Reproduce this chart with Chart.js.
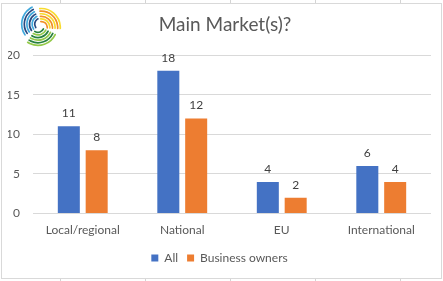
<!DOCTYPE html>
<html>
<head>
<meta charset="utf-8">
<script src="https://cdn.jsdelivr.net/npm/chart.js@4.4.1/dist/chart.umd.min.js"></script>
<style>
  html, body { margin: 0; padding: 0; background: #ffffff; }
  #wrap { width: 443px; height: 281px; }
</style>
</head>
<body>
<div id="wrap"><canvas id="c" width="443" height="281"></canvas></div>
<script>
// Survey answers: main market(s)
const categories = ['Local/regional', 'National', 'EU', 'International'];
const allRespondents = [11, 18, 4, 6];
const businessOwners = [8, 12, 2, 4];
const seriesNames = ['All', 'Business owners'];
const yTicks = [0, 5, 10, 15, 20];
const chartTitle = 'Main Market(s)?';

const FONT = 'Lato, "Liberation Sans", sans-serif';
const TEXT = '#595959';
const GRID = '#D9D9D9';

// Sheet cell lines, chart frame, title and the swirl emblem
const framePlugin = {
  id: 'frame',
  beforeDraw(chart) {
    const ctx = chart.ctx;
    ctx.save();
    ctx.fillStyle = '#ffffff';
    ctx.fillRect(0, 0, chart.width, chart.height);
    ctx.strokeStyle = '#D4D4D4';
    ctx.lineWidth = 1;
    [60, 145, 230, 315, 400].forEach(x => {
      ctx.beginPath();
      ctx.moveTo(x + 0.5, 0); ctx.lineTo(x + 0.5, 3);
      ctx.moveTo(x + 0.5, 278); ctx.lineTo(x + 0.5, 281);
      ctx.stroke();
    });
    ctx.strokeStyle = GRID;
    ctx.strokeRect(1.5, 3.5, 440, 275);
    ctx.restore();
  },
  afterDraw(chart) {
    const ctx = chart.ctx;
    ctx.save();
    ctx.font = '19px ' + FONT;
    ctx.fillStyle = TEXT;
    ctx.textAlign = 'center';
    ctx.textBaseline = 'middle';
    ctx.fillText(chartTitle, 225, 25);

    ctx.lineCap = 'round';
    const cx = 40, cy = 26;
    const blades = [
      { mid: -40, from: '#F08A1C', to: '#F8D923' },
      { mid: 80,  from: '#1C7A36', to: '#8DC63F' },
      { mid: 200, from: '#1B3F7A', to: '#36A3DA' }
    ];
    blades.forEach(b => {
      const a = b.mid * Math.PI / 180;
      const ox = cx + 2 * Math.cos(a + Math.PI / 2);
      const oy = cy + 2 * Math.sin(a + Math.PI / 2);
      const radii = [6, 8.6, 11.2, 13.8, 16.4, 19];
      radii.forEach((r, i) => {
        ctx.strokeStyle = i % 2 ? b.to : b.from;
        ctx.globalAlpha = 0.95;
        ctx.lineWidth = 1.7;
        ctx.beginPath();
        ctx.arc(ox, oy, r, a - 0.95, a + 0.75);
        ctx.stroke();
      });
    });
    ctx.restore();
  }
};

// Value labels over each bar
const valueLabels = {
  id: 'valueLabels',
  afterDatasetsDraw(chart) {
    const ctx = chart.ctx;
    ctx.save();
    ctx.font = '12px ' + FONT;
    ctx.fillStyle = '#404040';
    ctx.textAlign = 'center';
    ctx.textBaseline = 'middle';
    chart.data.datasets.forEach((ds, i) => {
      chart.getDatasetMeta(i).data.forEach((bar, j) => {
        ctx.fillText(String(ds.data[j]), bar.x, bar.y - 13);
      });
    });
    ctx.restore();
  }
};

new Chart(document.getElementById('c'), {
  type: 'bar',
  data: {
    labels: categories,
    datasets: [
      { label: seriesNames[0], data: allRespondents, backgroundColor: '#4472C4' },
      { label: seriesNames[1], data: businessOwners, backgroundColor: '#ED7D31' }
    ]
  },
  options: {
    responsive: false,
    animation: false,
    devicePixelRatio: 1,
    categoryPercentage: 0.56,
    barPercentage: 0.79,
    layout: { padding: { left: 8, right: 12, top: 55, bottom: 7 } },
    plugins: {
      title: { display: false },
      legend: {
        position: 'bottom',
        labels: {
          color: TEXT,
          font: { family: FONT, size: 12 },
          boxWidth: 7,
          boxHeight: 7,
          padding: 9
        }
      },
      tooltip: { enabled: false }
    },
    scales: {
      x: {
        afterFit(scale) { scale.height += 5; },
        grid: { display: false },
        border: { display: false },
        ticks: { color: TEXT, font: { family: FONT, size: 12 }, padding: 1 }
      },
      y: {
        min: 0,
        max: 20,
        afterFit(scale) { scale.width = 25; },
        afterBuildTicks(scale) { scale.ticks = yTicks.map(v => ({ value: v })); },
        grid: { color: GRID, drawTicks: false },
        border: { display: false },
        ticks: { color: TEXT, font: { family: FONT, size: 12 }, padding: 13 }
      }
    }
  },
  plugins: [framePlugin, valueLabels]
});
</script>
</body>
</html>
